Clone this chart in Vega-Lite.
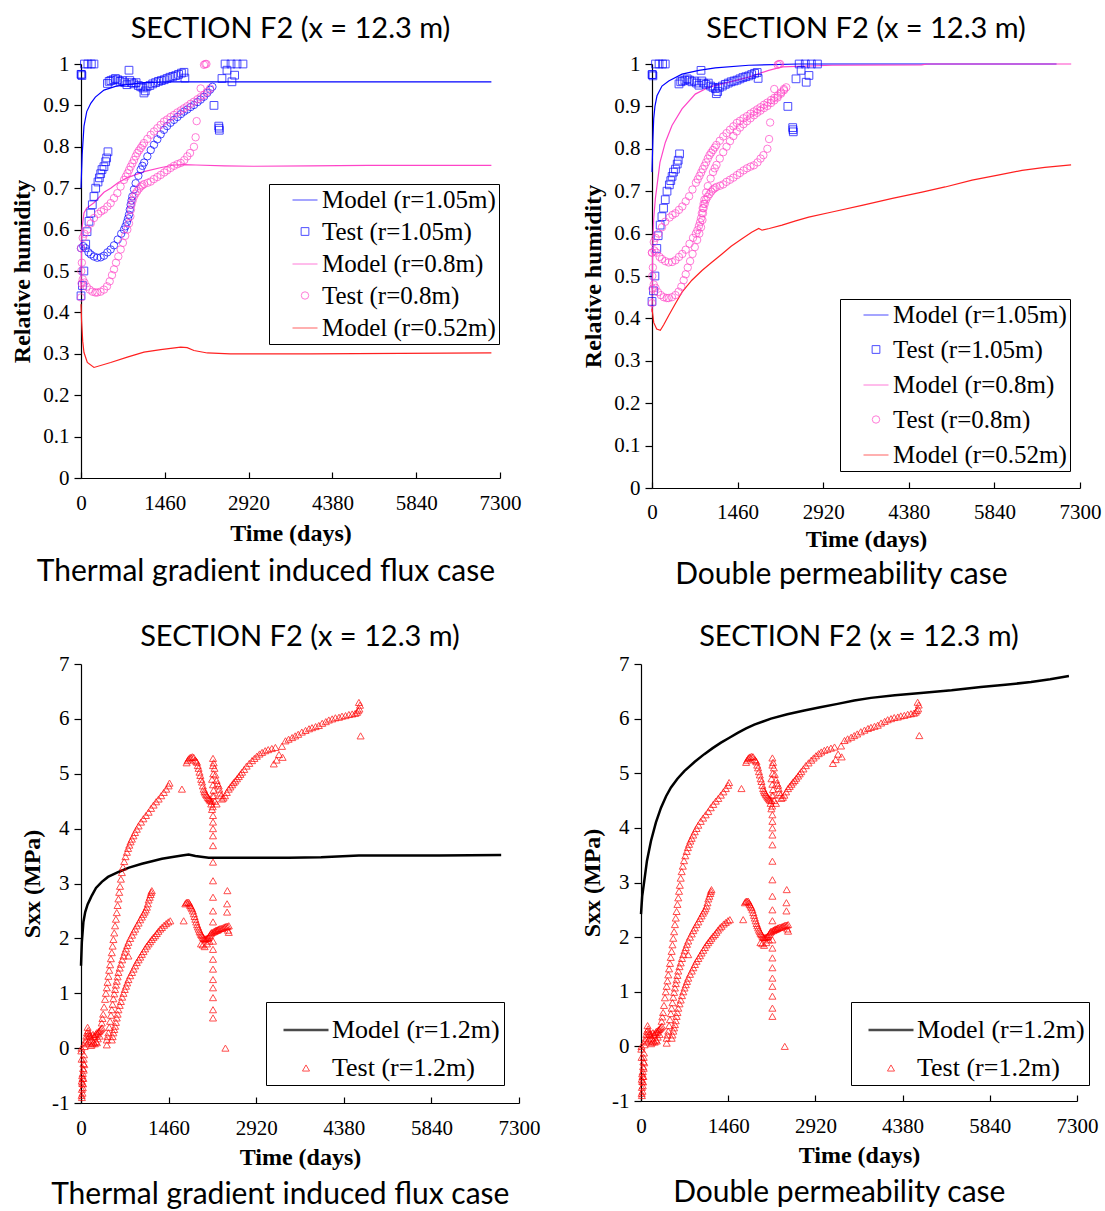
{
"$schema": "https://vega.github.io/schema/vega-lite/v6.json",
"background": "white",
"padding": {"left": 10, "top": 15, "right": 5, "bottom": 5},
"config": {
  "font": "Liberation Serif",
  "view": {"stroke": null},
  "axis": {"grid": false, "domainColor": "black", "tickColor": "black", "labelColor": "black", "titleColor": "black", "labelFont": "Liberation Serif", "labelFontSize": 21, "titleFont": "Liberation Serif", "titleFontSize": 24, "titleFontWeight": "bold", "domainWidth": 1.2, "tickWidth": 1.2, "labelFlush": false, "labelExpr": "'' + datum.value"},
  "legend": {"labelLimit": 500},
  "title": {"font": "Lato", "fontSize": 29, "fontWeight": "normal", "color": "black", "anchor": "middle"}
},
"datasets": {
  "rh_test": [
    {"t":0,"v":0.975,"s":"Test (r=1.05m)"},{"t":8,"v":0.975,"s":"Test (r=1.05m)"},{"t":16,"v":0.972,"s":"Test (r=1.05m)"},{"t":60,"v":1.0,"s":"Test (r=1.05m)"},{"t":120,"v":1.0,"s":"Test (r=1.05m)"},{"t":180,"v":1.0,"s":"Test (r=1.05m)"},{"t":226,"v":1.0,"s":"Test (r=1.05m)"},
    {"t":0,"v":0.44,"s":"Test (r=1.05m)"},{"t":25,"v":0.465,"s":"Test (r=1.05m)"},{"t":50,"v":0.5,"s":"Test (r=1.05m)"},{"t":82,"v":0.565,"s":"Test (r=1.05m)"},{"t":105,"v":0.595,"s":"Test (r=1.05m)"},{"t":139,"v":0.62,"s":"Test (r=1.05m)"},{"t":169,"v":0.64,"s":"Test (r=1.05m)"},{"t":197,"v":0.66,"s":"Test (r=1.05m)"},{"t":226,"v":0.68,"s":"Test (r=1.05m)"},{"t":256,"v":0.7,"s":"Test (r=1.05m)"},{"t":296,"v":0.715,"s":"Test (r=1.05m)"},{"t":320,"v":0.725,"s":"Test (r=1.05m)"},{"t":343,"v":0.735,"s":"Test (r=1.05m)"},{"t":366,"v":0.745,"s":"Test (r=1.05m)"},{"t":400,"v":0.752,"s":"Test (r=1.05m)"},{"t":430,"v":0.764,"s":"Test (r=1.05m)"},{"t":447,"v":0.773,"s":"Test (r=1.05m)"},{"t":470,"v":0.788,"s":"Test (r=1.05m)"},
    {"t":460,"v":0.953,"s":"Test (r=1.05m)"},{"t":490,"v":0.958,"s":"Test (r=1.05m)"},{"t":520,"v":0.96,"s":"Test (r=1.05m)"},{"t":560,"v":0.962,"s":"Test (r=1.05m)"},{"t":600,"v":0.965,"s":"Test (r=1.05m)"},{"t":640,"v":0.962,"s":"Test (r=1.05m)"},{"t":680,"v":0.958,"s":"Test (r=1.05m)"},{"t":720,"v":0.96,"s":"Test (r=1.05m)"},{"t":760,"v":0.955,"s":"Test (r=1.05m)"},{"t":800,"v":0.95,"s":"Test (r=1.05m)"},{"t":836,"v":0.985,"s":"Test (r=1.05m)"},{"t":850,"v":0.96,"s":"Test (r=1.05m)"},{"t":880,"v":0.955,"s":"Test (r=1.05m)"},{"t":920,"v":0.952,"s":"Test (r=1.05m)"},{"t":960,"v":0.955,"s":"Test (r=1.05m)"},{"t":1000,"v":0.948,"s":"Test (r=1.05m)"},{"t":1040,"v":0.945,"s":"Test (r=1.05m)"},{"t":1080,"v":0.942,"s":"Test (r=1.05m)"},{"t":1097,"v":0.93,"s":"Test (r=1.05m)"},{"t":1120,"v":0.935,"s":"Test (r=1.05m)"},{"t":1150,"v":0.945,"s":"Test (r=1.05m)"},{"t":1200,"v":0.948,"s":"Test (r=1.05m)"},{"t":1250,"v":0.952,"s":"Test (r=1.05m)"},{"t":1300,"v":0.955,"s":"Test (r=1.05m)"},{"t":1350,"v":0.958,"s":"Test (r=1.05m)"},{"t":1400,"v":0.96,"s":"Test (r=1.05m)"},{"t":1450,"v":0.962,"s":"Test (r=1.05m)"},{"t":1500,"v":0.965,"s":"Test (r=1.05m)"},{"t":1550,"v":0.968,"s":"Test (r=1.05m)"},{"t":1600,"v":0.97,"s":"Test (r=1.05m)"},{"t":1650,"v":0.972,"s":"Test (r=1.05m)"},{"t":1700,"v":0.975,"s":"Test (r=1.05m)"},{"t":1750,"v":0.978,"s":"Test (r=1.05m)"},{"t":1794,"v":0.98,"s":"Test (r=1.05m)"},{"t":1810,"v":0.966,"s":"Test (r=1.05m)"},
    {"t":2317,"v":0.9,"s":"Test (r=1.05m)"},{"t":2400,"v":0.85,"s":"Test (r=1.05m)"},{"t":2405,"v":0.845,"s":"Test (r=1.05m)"},{"t":2410,"v":0.84,"s":"Test (r=1.05m)"},{"t":2456,"v":0.965,"s":"Test (r=1.05m)"},{"t":2510,"v":1.0,"s":"Test (r=1.05m)"},{"t":2543,"v":0.985,"s":"Test (r=1.05m)"},{"t":2614,"v":1.0,"s":"Test (r=1.05m)"},{"t":2630,"v":0.957,"s":"Test (r=1.05m)"},{"t":2677,"v":0.973,"s":"Test (r=1.05m)"},{"t":2718,"v":1.0,"s":"Test (r=1.05m)"},{"t":2822,"v":1.0,"s":"Test (r=1.05m)"},
    {"t":0,"v":0.555,"s":"Test B"},{"t":40,"v":0.56,"s":"Test B"},{"t":80,"v":0.555,"s":"Test B"},{"t":130,"v":0.545,"s":"Test B"},{"t":170,"v":0.54,"s":"Test B"},{"t":226,"v":0.535,"s":"Test B"},{"t":284,"v":0.532,"s":"Test B"},{"t":343,"v":0.533,"s":"Test B"},{"t":400,"v":0.537,"s":"Test B"},{"t":460,"v":0.545,"s":"Test B"},{"t":517,"v":0.552,"s":"Test B"},{"t":575,"v":0.562,"s":"Test B"},{"t":640,"v":0.576,"s":"Test B"},{"t":700,"v":0.59,"s":"Test B"},{"t":749,"v":0.6,"s":"Test B"},{"t":775,"v":0.608,"s":"Test B"},{"t":800,"v":0.618,"s":"Test B"},{"t":820,"v":0.627,"s":"Test B"},{"t":836,"v":0.636,"s":"Test B"},{"t":850,"v":0.648,"s":"Test B"},{"t":865,"v":0.66,"s":"Test B"},{"t":880,"v":0.67,"s":"Test B"},{"t":894,"v":0.68,"s":"Test B"},{"t":923,"v":0.697,"s":"Test B"},{"t":952,"v":0.712,"s":"Test B"},{"t":1000,"v":0.73,"s":"Test B"},{"t":1040,"v":0.745,"s":"Test B"},{"t":1070,"v":0.754,"s":"Test B"},{"t":1100,"v":0.762,"s":"Test B"},{"t":1156,"v":0.777,"s":"Test B"},{"t":1215,"v":0.792,"s":"Test B"},{"t":1272,"v":0.805,"s":"Test B"},{"t":1330,"v":0.818,"s":"Test B"},{"t":1388,"v":0.83,"s":"Test B"},{"t":1446,"v":0.841,"s":"Test B"},{"t":1500,"v":0.85,"s":"Test B"},{"t":1560,"v":0.858,"s":"Test B"},{"t":1620,"v":0.865,"s":"Test B"},{"t":1680,"v":0.872,"s":"Test B"},{"t":1740,"v":0.879,"s":"Test B"},{"t":1794,"v":0.885,"s":"Test B"},{"t":1850,"v":0.89,"s":"Test B"},{"t":1910,"v":0.896,"s":"Test B"},{"t":1968,"v":0.901,"s":"Test B"},{"t":2030,"v":0.908,"s":"Test B"},{"t":2085,"v":0.914,"s":"Test B"},{"t":2143,"v":0.921,"s":"Test B"},{"t":2200,"v":0.93,"s":"Test B"},{"t":2250,"v":0.938,"s":"Test B"},{"t":2290,"v":0.945,"s":"Test B"},
    {"t":0,"v":0.555,"s":"Test (r=0.8m)"},{"t":30,"v":0.58,"s":"Test (r=0.8m)"},{"t":60,"v":0.59,"s":"Test (r=0.8m)"},{"t":110,"v":0.6,"s":"Test (r=0.8m)"},{"t":170,"v":0.615,"s":"Test (r=0.8m)"},{"t":226,"v":0.628,"s":"Test (r=0.8m)"},{"t":300,"v":0.638,"s":"Test (r=0.8m)"},{"t":350,"v":0.644,"s":"Test (r=0.8m)"},{"t":400,"v":0.648,"s":"Test (r=0.8m)"},{"t":460,"v":0.656,"s":"Test (r=0.8m)"},{"t":517,"v":0.664,"s":"Test (r=0.8m)"},{"t":575,"v":0.676,"s":"Test (r=0.8m)"},{"t":633,"v":0.688,"s":"Test (r=0.8m)"},{"t":690,"v":0.704,"s":"Test (r=0.8m)"},{"t":749,"v":0.72,"s":"Test (r=0.8m)"},{"t":780,"v":0.728,"s":"Test (r=0.8m)"},{"t":810,"v":0.736,"s":"Test (r=0.8m)"},{"t":838,"v":0.744,"s":"Test (r=0.8m)"},{"t":865,"v":0.752,"s":"Test (r=0.8m)"},{"t":895,"v":0.76,"s":"Test (r=0.8m)"},{"t":923,"v":0.768,"s":"Test (r=0.8m)"},{"t":952,"v":0.777,"s":"Test (r=0.8m)"},{"t":981,"v":0.785,"s":"Test (r=0.8m)"},{"t":1010,"v":0.791,"s":"Test (r=0.8m)"},{"t":1040,"v":0.797,"s":"Test (r=0.8m)"},{"t":1070,"v":0.803,"s":"Test (r=0.8m)"},{"t":1097,"v":0.809,"s":"Test (r=0.8m)"},{"t":1156,"v":0.819,"s":"Test (r=0.8m)"},{"t":1215,"v":0.829,"s":"Test (r=0.8m)"},{"t":1272,"v":0.837,"s":"Test (r=0.8m)"},{"t":1330,"v":0.845,"s":"Test (r=0.8m)"},{"t":1388,"v":0.853,"s":"Test (r=0.8m)"},{"t":1446,"v":0.861,"s":"Test (r=0.8m)"},{"t":1500,"v":0.866,"s":"Test (r=0.8m)"},{"t":1560,"v":0.872,"s":"Test (r=0.8m)"},{"t":1620,"v":0.877,"s":"Test (r=0.8m)"},{"t":1680,"v":0.883,"s":"Test (r=0.8m)"},{"t":1740,"v":0.888,"s":"Test (r=0.8m)"},{"t":1794,"v":0.893,"s":"Test (r=0.8m)"},{"t":1850,"v":0.898,"s":"Test (r=0.8m)"},{"t":1910,"v":0.904,"s":"Test (r=0.8m)"},{"t":1968,"v":0.909,"s":"Test (r=0.8m)"},{"t":2030,"v":0.915,"s":"Test (r=0.8m)"},{"t":2085,"v":0.92,"s":"Test (r=0.8m)"},{"t":2143,"v":0.925,"s":"Test (r=0.8m)"},{"t":2200,"v":0.933,"s":"Test (r=0.8m)"},{"t":2250,"v":0.941,"s":"Test (r=0.8m)"},
    {"t":0,"v":0.436,"s":"Test (r=0.8m)"},{"t":5,"v":0.5,"s":"Test (r=0.8m)"},{"t":15,"v":0.52,"s":"Test (r=0.8m)"},{"t":10,"v":0.47,"s":"Test (r=0.8m)"},{"t":30,"v":0.48,"s":"Test (r=0.8m)"},{"t":60,"v":0.472,"s":"Test (r=0.8m)"},{"t":100,"v":0.462,"s":"Test (r=0.8m)"},{"t":150,"v":0.455,"s":"Test (r=0.8m)"},{"t":200,"v":0.45,"s":"Test (r=0.8m)"},{"t":250,"v":0.448,"s":"Test (r=0.8m)"},{"t":284,"v":0.448,"s":"Test (r=0.8m)"},{"t":340,"v":0.45,"s":"Test (r=0.8m)"},{"t":400,"v":0.455,"s":"Test (r=0.8m)"},{"t":453,"v":0.463,"s":"Test (r=0.8m)"},{"t":500,"v":0.475,"s":"Test (r=0.8m)"},{"t":540,"v":0.49,"s":"Test (r=0.8m)"},{"t":575,"v":0.504,"s":"Test (r=0.8m)"},{"t":610,"v":0.52,"s":"Test (r=0.8m)"},{"t":650,"v":0.535,"s":"Test (r=0.8m)"},{"t":692,"v":0.552,"s":"Test (r=0.8m)"},{"t":730,"v":0.568,"s":"Test (r=0.8m)"},{"t":770,"v":0.585,"s":"Test (r=0.8m)"},{"t":807,"v":0.6,"s":"Test (r=0.8m)"},{"t":836,"v":0.615,"s":"Test (r=0.8m)"},{"t":860,"v":0.632,"s":"Test (r=0.8m)"},{"t":870,"v":0.648,"s":"Test (r=0.8m)"},{"t":880,"v":0.66,"s":"Test (r=0.8m)"},{"t":900,"v":0.67,"s":"Test (r=0.8m)"},{"t":923,"v":0.68,"s":"Test (r=0.8m)"},{"t":950,"v":0.687,"s":"Test (r=0.8m)"},{"t":980,"v":0.693,"s":"Test (r=0.8m)"},{"t":1010,"v":0.699,"s":"Test (r=0.8m)"},{"t":1040,"v":0.704,"s":"Test (r=0.8m)"},{"t":1070,"v":0.707,"s":"Test (r=0.8m)"},{"t":1100,"v":0.71,"s":"Test (r=0.8m)"},{"t":1160,"v":0.713,"s":"Test (r=0.8m)"},{"t":1214,"v":0.716,"s":"Test (r=0.8m)"},{"t":1270,"v":0.722,"s":"Test (r=0.8m)"},{"t":1330,"v":0.727,"s":"Test (r=0.8m)"},{"t":1388,"v":0.732,"s":"Test (r=0.8m)"},{"t":1450,"v":0.738,"s":"Test (r=0.8m)"},{"t":1500,"v":0.743,"s":"Test (r=0.8m)"},{"t":1562,"v":0.749,"s":"Test (r=0.8m)"},{"t":1620,"v":0.754,"s":"Test (r=0.8m)"},{"t":1680,"v":0.758,"s":"Test (r=0.8m)"},{"t":1737,"v":0.761,"s":"Test (r=0.8m)"},{"t":1800,"v":0.768,"s":"Test (r=0.8m)"},{"t":1852,"v":0.777,"s":"Test (r=0.8m)"},{"t":1900,"v":0.785,"s":"Test (r=0.8m)"},{"t":1968,"v":0.8,"s":"Test (r=0.8m)"},{"t":1997,"v":0.823,"s":"Test (r=0.8m)"},{"t":2015,"v":0.862,"s":"Test (r=0.8m)"},{"t":2085,"v":0.941,"s":"Test (r=0.8m)"},{"t":2143,"v":0.998,"s":"Test (r=0.8m)"},{"t":2165,"v":1.0,"s":"Test (r=0.8m)"},{"t":2185,"v":1.0,"s":"Test (r=0.8m)"}
  ],
  "rh_model_tg": [
    {"t":0,"v":0.70,"s":"Model (r=1.05m)"},{"t":20,"v":0.78,"s":"Model (r=1.05m)"},{"t":52,"v":0.85,"s":"Model (r=1.05m)"},{"t":100,"v":0.885,"s":"Model (r=1.05m)"},{"t":170,"v":0.905,"s":"Model (r=1.05m)"},{"t":250,"v":0.92,"s":"Model (r=1.05m)"},{"t":400,"v":0.937,"s":"Model (r=1.05m)"},{"t":600,"v":0.946,"s":"Model (r=1.05m)"},{"t":800,"v":0.95,"s":"Model (r=1.05m)"},{"t":1100,"v":0.955,"s":"Model (r=1.05m)"},{"t":1500,"v":0.957,"s":"Model (r=1.05m)"},{"t":2500,"v":0.957,"s":"Model (r=1.05m)"},{"t":4000,"v":0.957,"s":"Model (r=1.05m)"},{"t":5500,"v":0.957,"s":"Model (r=1.05m)"},{"t":7150,"v":0.957,"s":"Model (r=1.05m)"},
    {"t":0,"v":0.45,"s":"Model (r=0.8m)"},{"t":15,"v":0.6,"s":"Model (r=0.8m)"},{"t":52,"v":0.64,"s":"Model (r=0.8m)"},{"t":100,"v":0.652,"s":"Model (r=0.8m)"},{"t":226,"v":0.665,"s":"Model (r=0.8m)"},{"t":400,"v":0.69,"s":"Model (r=0.8m)"},{"t":517,"v":0.70,"s":"Model (r=0.8m)"},{"t":650,"v":0.714,"s":"Model (r=0.8m)"},{"t":800,"v":0.725,"s":"Model (r=0.8m)"},{"t":1097,"v":0.74,"s":"Model (r=0.8m)"},{"t":1400,"v":0.75,"s":"Model (r=0.8m)"},{"t":1620,"v":0.756,"s":"Model (r=0.8m)"},{"t":1800,"v":0.757,"s":"Model (r=0.8m)"},{"t":2000,"v":0.756,"s":"Model (r=0.8m)"},{"t":2500,"v":0.754,"s":"Model (r=0.8m)"},{"t":3000,"v":0.753,"s":"Model (r=0.8m)"},{"t":4000,"v":0.754,"s":"Model (r=0.8m)"},{"t":5000,"v":0.755,"s":"Model (r=0.8m)"},{"t":7150,"v":0.755,"s":"Model (r=0.8m)"},
    {"t":0,"v":0.42,"s":"Model (r=0.52m)"},{"t":10,"v":0.38,"s":"Model (r=0.52m)"},{"t":30,"v":0.33,"s":"Model (r=0.52m)"},{"t":52,"v":0.303,"s":"Model (r=0.52m)"},{"t":110,"v":0.279,"s":"Model (r=0.52m)"},{"t":226,"v":0.267,"s":"Model (r=0.52m)"},{"t":517,"v":0.279,"s":"Model (r=0.52m)"},{"t":807,"v":0.292,"s":"Model (r=0.52m)"},{"t":1097,"v":0.304,"s":"Model (r=0.52m)"},{"t":1388,"v":0.31,"s":"Model (r=0.52m)"},{"t":1737,"v":0.316,"s":"Model (r=0.52m)"},{"t":1850,"v":0.315,"s":"Model (r=0.52m)"},{"t":1968,"v":0.308,"s":"Model (r=0.52m)"},{"t":2200,"v":0.302,"s":"Model (r=0.52m)"},{"t":2600,"v":0.30,"s":"Model (r=0.52m)"},{"t":4000,"v":0.30,"s":"Model (r=0.52m)"},{"t":7150,"v":0.302,"s":"Model (r=0.52m)"}
  ],
  "rh_model_dp": [
    {"t":0,"v":0.745,"s":"Model (r=1.05m)"},{"t":15,"v":0.82,"s":"Model (r=1.05m)"},{"t":29,"v":0.871,"s":"Model (r=1.05m)"},{"t":50,"v":0.9,"s":"Model (r=1.05m)"},{"t":85,"v":0.925,"s":"Model (r=1.05m)"},{"t":170,"v":0.948,"s":"Model (r=1.05m)"},{"t":285,"v":0.96,"s":"Model (r=1.05m)"},{"t":512,"v":0.976,"s":"Model (r=1.05m)"},{"t":800,"v":0.985,"s":"Model (r=1.05m)"},{"t":1080,"v":0.991,"s":"Model (r=1.05m)"},{"t":1650,"v":0.997,"s":"Model (r=1.05m)"},{"t":2500,"v":1.0,"s":"Model (r=1.05m)"},{"t":4000,"v":1.0,"s":"Model (r=1.05m)"},{"t":6900,"v":1.0,"s":"Model (r=1.05m)"},
    {"t":0,"v":0.415,"s":"Model (r=0.8m)"},{"t":10,"v":0.55,"s":"Model (r=0.8m)"},{"t":29,"v":0.635,"s":"Model (r=0.8m)"},{"t":57,"v":0.682,"s":"Model (r=0.8m)"},{"t":136,"v":0.768,"s":"Model (r=0.8m)"},{"t":227,"v":0.815,"s":"Model (r=0.8m)"},{"t":341,"v":0.855,"s":"Model (r=0.8m)"},{"t":512,"v":0.894,"s":"Model (r=0.8m)"},{"t":738,"v":0.929,"s":"Model (r=0.8m)"},{"t":967,"v":0.945,"s":"Model (r=0.8m)"},{"t":1194,"v":0.953,"s":"Model (r=0.8m)"},{"t":1650,"v":0.969,"s":"Model (r=0.8m)"},{"t":1990,"v":0.985,"s":"Model (r=0.8m)"},{"t":2218,"v":0.993,"s":"Model (r=0.8m)"},{"t":3070,"v":0.997,"s":"Model (r=0.8m)"},{"t":4600,"v":0.998,"s":"Model (r=0.8m)"},{"t":4700,"v":1.0,"s":"Model (r=0.8m)"},{"t":7150,"v":1.0,"s":"Model (r=0.8m)"},
    {"t":0,"v":0.423,"s":"Model (r=0.52m)"},{"t":30,"v":0.39,"s":"Model (r=0.52m)"},{"t":80,"v":0.375,"s":"Model (r=0.52m)"},{"t":142,"v":0.372,"s":"Model (r=0.52m)"},{"t":200,"v":0.385,"s":"Model (r=0.52m)"},{"t":285,"v":0.407,"s":"Model (r=0.52m)"},{"t":400,"v":0.435,"s":"Model (r=0.52m)"},{"t":512,"v":0.462,"s":"Model (r=0.52m)"},{"t":680,"v":0.49,"s":"Model (r=0.52m)"},{"t":853,"v":0.513,"s":"Model (r=0.52m)"},{"t":1000,"v":0.53,"s":"Model (r=0.52m)"},{"t":1194,"v":0.552,"s":"Model (r=0.52m)"},{"t":1350,"v":0.57,"s":"Model (r=0.52m)"},{"t":1535,"v":0.588,"s":"Model (r=0.52m)"},{"t":1700,"v":0.603,"s":"Model (r=0.52m)"},{"t":1820,"v":0.612,"s":"Model (r=0.52m)"},{"t":1877,"v":0.608,"s":"Model (r=0.52m)"},{"t":2000,"v":0.612,"s":"Model (r=0.52m)"},{"t":2218,"v":0.62,"s":"Model (r=0.52m)"},{"t":2450,"v":0.63,"s":"Model (r=0.52m)"},{"t":2673,"v":0.639,"s":"Model (r=0.52m)"},{"t":3070,"v":0.651,"s":"Model (r=0.52m)"},{"t":3600,"v":0.667,"s":"Model (r=0.52m)"},{"t":4100,"v":0.683,"s":"Model (r=0.52m)"},{"t":4606,"v":0.698,"s":"Model (r=0.52m)"},{"t":5000,"v":0.71,"s":"Model (r=0.52m)"},{"t":5459,"v":0.726,"s":"Model (r=0.52m)"},{"t":5900,"v":0.738,"s":"Model (r=0.52m)"},{"t":6312,"v":0.749,"s":"Model (r=0.52m)"},{"t":6700,"v":0.756,"s":"Model (r=0.52m)"},{"t":7148,"v":0.762,"s":"Model (r=0.52m)"}
  ],
  "sxx_model_tg": [
    {"t":0,"v":1.5},{"t":14,"v":1.93},{"t":40,"v":2.3},{"t":70,"v":2.48},{"t":110,"v":2.62},{"t":154,"v":2.72},{"t":180,"v":2.78},{"t":250,"v":2.92},{"t":347,"v":3.03},{"t":450,"v":3.12},{"t":626,"v":3.21},{"t":800,"v":3.29},{"t":1015,"v":3.36},{"t":1200,"v":3.41},{"t":1349,"v":3.45},{"t":1500,"v":3.48},{"t":1682,"v":3.51},{"t":1794,"v":3.53},{"t":1906,"v":3.5},{"t":2128,"v":3.47},{"t":2500,"v":3.47},{"t":3463,"v":3.47},{"t":4000,"v":3.48},{"t":4632,"v":3.51},{"t":5967,"v":3.51},{"t":7003,"v":3.52}
  ],
  "sxx_model_dp": [
    {"t":0,"v":2.42},{"t":20,"v":2.75},{"t":55,"v":3.03},{"t":100,"v":3.4},{"t":167,"v":3.76},{"t":250,"v":4.1},{"t":335,"v":4.37},{"t":420,"v":4.58},{"t":502,"v":4.74},{"t":610,"v":4.9},{"t":725,"v":5.04},{"t":900,"v":5.21},{"t":1060,"v":5.35},{"t":1200,"v":5.46},{"t":1339,"v":5.56},{"t":1480,"v":5.65},{"t":1619,"v":5.74},{"t":1760,"v":5.82},{"t":1897,"v":5.89},{"t":2176,"v":6.0},{"t":2450,"v":6.08},{"t":2734,"v":6.15},{"t":3000,"v":6.21},{"t":3292,"v":6.27},{"t":3570,"v":6.33},{"t":3850,"v":6.38},{"t":4250,"v":6.43},{"t":4687,"v":6.47},{"t":5200,"v":6.52},{"t":5690,"v":6.58},{"t":6100,"v":6.62},{"t":6530,"v":6.67},{"t":6850,"v":6.72},{"t":7165,"v":6.78}
  ],
  "sxx_test": [
    {"t":11,"v":-0.86},{"t":15,"v":-0.75},{"t":20,"v":-0.64},{"t":25,"v":-0.55},{"t":30,"v":-0.46},{"t":35,"v":-0.37},{"t":40,"v":-0.28},{"t":45,"v":-0.2},{"t":50,"v":-0.12},{"t":5,"v":-0.05},{"t":8,"v":0.0},{"t":15,"v":-0.9},{"t":25,"v":-0.82},{"t":35,"v":-0.65},{"t":20,"v":-0.5},{"t":45,"v":-0.4},{"t":30,"v":-0.72},{"t":40,"v":-0.55},{"t":55,"v":-0.3},{"t":10,"v":-0.2},{"t":12,"v":-0.6},
    {"t":60,"v":0.03},{"t":70,"v":0.1},{"t":80,"v":0.15},{"t":90,"v":0.22},{"t":100,"v":0.28},{"t":110,"v":0.38},{"t":120,"v":0.32},{"t":130,"v":0.27},{"t":140,"v":0.22},{"t":150,"v":0.24},{"t":160,"v":0.2},{"t":180,"v":0.15},{"t":200,"v":0.25},{"t":215,"v":0.22},{"t":230,"v":0.21},{"t":245,"v":0.25},{"t":260,"v":0.28},{"t":275,"v":0.26},{"t":290,"v":0.3},{"t":305,"v":0.31},{"t":320,"v":0.33},{"t":335,"v":0.35},{"t":350,"v":0.37},{"t":100,"v":0.08},{"t":130,"v":0.12},{"t":170,"v":0.05},{"t":190,"v":0.08},{"t":210,"v":0.1},{"t":230,"v":0.08},{"t":250,"v":0.12},{"t":265,"v":0.1},{"t":280,"v":0.17},{"t":310,"v":0.22},{"t":430,"v":0.06},
    {"t":346,"v":0.46},{"t":358,"v":0.54},{"t":370,"v":0.62},{"t":385,"v":0.75},{"t":401,"v":0.89},{"t":415,"v":1.0},{"t":430,"v":1.1},{"t":443,"v":1.2},{"t":457,"v":1.31},{"t":470,"v":1.42},{"t":485,"v":1.52},{"t":498,"v":1.63},{"t":513,"v":1.74},{"t":527,"v":1.86},{"t":540,"v":1.98},{"t":554,"v":2.1},{"t":568,"v":2.23},{"t":582,"v":2.35},{"t":596,"v":2.47},{"t":610,"v":2.6},{"t":624,"v":2.72},{"t":637,"v":2.84},{"t":650,"v":2.95},{"t":665,"v":3.08},{"t":681,"v":3.2},{"t":700,"v":3.3},{"t":720,"v":3.4},{"t":742,"v":3.49},{"t":765,"v":3.57},{"t":785,"v":3.64},{"t":805,"v":3.7},{"t":826,"v":3.76},{"t":848,"v":3.81},{"t":874,"v":3.87},{"t":900,"v":3.93},{"t":930,"v":3.99},{"t":960,"v":4.05},{"t":1000,"v":4.12},{"t":1040,"v":4.18},{"t":1083,"v":4.24},{"t":1127,"v":4.3},{"t":1168,"v":4.37},{"t":1210,"v":4.43},{"t":1252,"v":4.49},{"t":1294,"v":4.54},{"t":1337,"v":4.6},{"t":1380,"v":4.66},{"t":1420,"v":4.72},{"t":1460,"v":4.78},{"t":1475,"v":4.83},
    {"t":430,"v":0.15},{"t":443,"v":0.21},{"t":457,"v":0.28},{"t":471,"v":0.38},{"t":485,"v":0.49},{"t":499,"v":0.6},{"t":513,"v":0.7},{"t":527,"v":0.8},{"t":540,"v":0.9},{"t":554,"v":0.99},{"t":568,"v":1.07},{"t":582,"v":1.15},{"t":596,"v":1.22},{"t":610,"v":1.3},{"t":624,"v":1.38},{"t":645,"v":1.46},{"t":665,"v":1.53},{"t":686,"v":1.61},{"t":708,"v":1.68},{"t":729,"v":1.75},{"t":750,"v":1.81},{"t":770,"v":1.87},{"t":791,"v":1.93},{"t":820,"v":2.0},{"t":850,"v":2.06},{"t":876,"v":2.12},{"t":903,"v":2.17},{"t":930,"v":2.23},{"t":960,"v":2.28},{"t":987,"v":2.34},{"t":1014,"v":2.39},{"t":1037,"v":2.44},{"t":1060,"v":2.48},{"t":1080,"v":2.52},{"t":1098,"v":2.57},{"t":1113,"v":2.63},{"t":1127,"v":2.7},{"t":1145,"v":2.75},{"t":1160,"v":2.8},{"t":1170,"v":2.84},{"t":1180,"v":2.87},
    {"t":513,"v":0.15},{"t":527,"v":0.21},{"t":540,"v":0.28},{"t":554,"v":0.34},{"t":568,"v":0.4},{"t":582,"v":0.47},{"t":596,"v":0.55},{"t":610,"v":0.62},{"t":624,"v":0.7},{"t":645,"v":0.78},{"t":665,"v":0.85},{"t":686,"v":0.93},{"t":708,"v":1.0},{"t":729,"v":1.07},{"t":750,"v":1.13},{"t":770,"v":1.19},{"t":791,"v":1.25},{"t":820,"v":1.32},{"t":850,"v":1.38},{"t":876,"v":1.44},{"t":903,"v":1.5},{"t":930,"v":1.56},{"t":960,"v":1.61},{"t":987,"v":1.66},{"t":1014,"v":1.71},{"t":1042,"v":1.76},{"t":1070,"v":1.81},{"t":1098,"v":1.86},{"t":1126,"v":1.9},{"t":1153,"v":1.94},{"t":1180,"v":1.98},{"t":1208,"v":2.02},{"t":1237,"v":2.05},{"t":1263,"v":2.09},{"t":1290,"v":2.13},{"t":1320,"v":2.17},{"t":1349,"v":2.2},{"t":1385,"v":2.24},{"t":1420,"v":2.27},{"t":1455,"v":2.3},{"t":1488,"v":2.32},{"t":790,"v":1.68},
    {"t":1682,"v":4.72},{"t":1760,"v":5.2},{"t":1777,"v":5.24},{"t":1794,"v":5.27},{"t":1812,"v":5.29},{"t":1830,"v":5.3},{"t":1855,"v":5.31},{"t":1878,"v":5.3},{"t":1905,"v":5.25},{"t":1918,"v":5.23},{"t":1933,"v":5.21},{"t":1946,"v":5.15},{"t":1960,"v":5.1},{"t":1975,"v":5.03},{"t":1989,"v":4.97},{"t":2003,"v":4.9},{"t":2017,"v":4.85},{"t":2031,"v":4.78},{"t":2045,"v":4.72},{"t":2058,"v":4.68},{"t":2070,"v":4.65},{"t":2085,"v":4.62},{"t":2100,"v":4.6},{"t":2115,"v":4.57},{"t":2130,"v":4.55},{"t":2143,"v":4.53},{"t":2156,"v":4.51},{"t":2170,"v":4.45},{"t":2183,"v":4.35},
    {"t":2200,"v":5.28},{"t":2211,"v":5.2},{"t":2225,"v":5.1},{"t":2240,"v":4.98},{"t":2260,"v":4.88},{"t":2275,"v":4.82},{"t":2295,"v":4.78},{"t":2305,"v":4.72},{"t":2320,"v":4.65},{"t":2335,"v":4.6},{"t":2350,"v":4.54},{"t":2375,"v":4.56},{"t":2400,"v":4.6},{"t":2430,"v":4.66},{"t":2462,"v":4.72},{"t":2490,"v":4.76},{"t":2520,"v":4.8},{"t":2545,"v":4.84},{"t":2573,"v":4.87},{"t":2600,"v":4.91},{"t":2630,"v":4.95},{"t":2657,"v":4.99},{"t":2684,"v":5.03},{"t":2720,"v":5.08},{"t":2760,"v":5.14},{"t":2805,"v":5.19},{"t":2851,"v":5.24},{"t":2890,"v":5.28},{"t":2930,"v":5.32},{"t":2975,"v":5.36},{"t":3018,"v":5.39},{"t":3070,"v":5.42},{"t":3120,"v":5.44},{"t":3180,"v":5.46},{"t":3240,"v":5.48},{"t":3213,"v":5.18},{"t":3260,"v":5.25},{"t":3300,"v":5.35},{"t":3350,"v":5.5},{"t":3360,"v":5.3},{"t":3408,"v":5.6},{"t":3460,"v":5.63},{"t":3519,"v":5.66},{"t":3570,"v":5.69},{"t":3620,"v":5.72},{"t":3680,"v":5.76},{"t":3742,"v":5.79},{"t":3800,"v":5.82},{"t":3850,"v":5.84},{"t":3910,"v":5.86},{"t":3964,"v":5.88},{"t":4020,"v":5.92},{"t":4080,"v":5.95},{"t":4130,"v":5.98},{"t":4186,"v":6.0},{"t":4240,"v":6.02},{"t":4300,"v":6.03},{"t":4350,"v":6.05},{"t":4409,"v":6.06},{"t":4465,"v":6.08},{"t":4520,"v":6.09},{"t":4570,"v":6.1},{"t":4600,"v":6.12},{"t":4620,"v":6.15},{"t":4632,"v":6.3},{"t":4640,"v":6.18},{"t":4650,"v":6.25},{"t":4660,"v":5.69},
    {"t":2195,"v":4.4},{"t":2195,"v":4.6},{"t":2200,"v":4.8},{"t":2205,"v":5.0},{"t":2200,"v":5.15},{"t":2180,"v":4.5},{"t":2230,"v":4.5},{"t":2260,"v":4.45},{"t":2210,"v":4.7},{"t":2185,"v":4.9},{"t":2215,"v":4.6},
    {"t":2200,"v":4.24},{"t":2200,"v":4.12},{"t":2200,"v":4.0},{"t":2200,"v":3.87},{"t":2200,"v":3.69},{"t":2200,"v":3.39},{"t":2200,"v":3.05},{"t":2200,"v":2.75},{"t":2200,"v":2.5},{"t":2200,"v":2.3},{"t":2200,"v":1.95},{"t":2200,"v":1.8},{"t":2200,"v":1.62},{"t":2200,"v":1.44},{"t":2200,"v":1.25},{"t":2200,"v":1.1},{"t":2200,"v":0.92},{"t":2200,"v":0.7},{"t":2200,"v":0.55},
    {"t":1711,"v":2.32},{"t":1739,"v":2.63},{"t":1755,"v":2.65},{"t":1770,"v":2.66},{"t":1794,"v":2.66},{"t":1808,"v":2.63},{"t":1820,"v":2.6},{"t":1835,"v":2.57},{"t":1850,"v":2.54},{"t":1865,"v":2.5},{"t":1880,"v":2.45},{"t":1893,"v":2.4},{"t":1906,"v":2.35},{"t":1920,"v":2.3},{"t":1935,"v":2.25},{"t":1948,"v":2.21},{"t":1962,"v":2.17},{"t":1976,"v":2.13},{"t":1990,"v":2.1},{"t":2003,"v":2.07},{"t":2017,"v":2.05},{"t":2031,"v":2.02},{"t":2045,"v":2.0},{"t":2059,"v":1.99},{"t":2073,"v":1.99},{"t":2087,"v":1.99},{"t":2100,"v":2.0},{"t":2115,"v":2.01},{"t":2129,"v":2.02},{"t":2145,"v":2.05},{"t":2160,"v":2.08},{"t":2172,"v":2.1},{"t":2185,"v":2.11},{"t":2210,"v":2.12},{"t":2225,"v":2.13},{"t":2240,"v":2.14},{"t":2255,"v":2.15},{"t":2270,"v":2.15},{"t":2283,"v":2.16},{"t":2296,"v":2.17},{"t":2318,"v":2.18},{"t":2340,"v":2.18},{"t":2360,"v":2.19},{"t":2380,"v":2.2},{"t":2400,"v":2.21},{"t":2420,"v":2.22},{"t":2442,"v":2.22},{"t":2463,"v":2.23},{"t":2463,"v":2.11},{"t":2450,"v":2.15},{"t":2435,"v":2.63},{"t":2435,"v":2.48},{"t":2440,"v":2.87},{"t":2407,"v":0.0},{"t":2000,"v":1.9},{"t":2030,"v":1.88},{"t":2060,"v":1.85},{"t":2100,"v":1.9},{"t":2140,"v":1.95}
  ]
},
"resolve": {"scale": {"color": "independent", "shape": "independent", "size": "independent", "strokeWidth": "independent"}},
"spacing": 33,
"vconcat": [
  {
    "spacing": 60,
    "resolve": {"scale": {"color": "independent", "shape": "independent", "size": "independent"}},
    "hconcat": [
      {
        "title": {"text": "Thermal gradient induced flux case", "orient": "bottom", "offset": 12, "fontSize": 30},
        "resolve": {"scale": {"color": "independent", "shape": "independent", "size": "independent"}},
        "vconcat": [
          {
            "width": 419, "height": 414,
            "title": {"text": "SECTION F2 (x = 12.3 m)", "offset": 9, "frame": "group"},
            "layer": [
              {
                "data": {"name": "rh_model_tg"},
                "mark": {"type": "line", "strokeWidth": 1.2},
                "encoding": {
                  "x": {"field": "t", "type": "quantitative", "scale": {"domain": [0, 7300], "nice": false}, "axis": {"values": [0, 1460, 2920, 4380, 5840, 7300], "title": "Time (days)", "tickSize": -6, "labelPadding": 20, "titlePadding": 8, "labelFont": "Liberation Serif"}},
                  "y": {"field": "v", "type": "quantitative", "scale": {"domain": [0, 1], "nice": false}, "axis": {"values": [0, 0.1, 0.2, 0.3, 0.4, 0.5, 0.6, 0.7, 0.8, 0.9, 1], "title": "Relative humidity", "tickSize": 7, "labelPadding": 5, "titlePadding": 8, "labelFont": "Liberation Serif"}},
                  "color": {"field": "s", "type": "nominal", "scale": {"domain": ["Model (r=1.05m)", "Test (r=1.05m)", "Model (r=0.8m)", "Test (r=0.8m)", "Model (r=0.52m)", "Test B"], "range": ["#0000FF", "#0000FF", "#FF44C8", "#FF44C8", "#FF2020", "#0000FF"]}, "legend": {"title": null, "orient": "none", "legendX": 188, "legendY": 120, "values": ["Model (r=1.05m)", "Test (r=1.05m)", "Model (r=0.8m)", "Test (r=0.8m)", "Model (r=0.52m)"], "strokeColor": "black", "fillColor": "white", "padding": 3, "symbolOffset": 20, "labelFont": "Liberation Serif", "labelFontSize": 25, "labelColor": "black", "symbolStrokeWidth": 1, "rowPadding": 6, "labelOffset": 4, "labelLimit": 500}}
                }
              },
              {
                "data": {"name": "rh_test"},
                "mark": {"type": "point", "filled": false, "strokeWidth": 1},
                "encoding": {
                  "x": {"field": "t", "type": "quantitative"},
                  "y": {"field": "v", "type": "quantitative"},
                  "color": {"field": "s", "type": "nominal"},
                  "shape": {"field": "s", "type": "nominal", "scale": {"domain": ["Model (r=1.05m)", "Test (r=1.05m)", "Model (r=0.8m)", "Test (r=0.8m)", "Model (r=0.52m)", "Test B"], "range": ["stroke", "square", "stroke", "circle", "stroke", "circle"]}},
                  "size": {"field": "s", "type": "nominal", "scale": {"type": "ordinal", "domain": ["Model (r=1.05m)", "Test (r=1.05m)", "Model (r=0.8m)", "Test (r=0.8m)", "Model (r=0.52m)", "Test B"], "range": [625, 60, 625, 55, 625, 55]}}
                }
              }
            ]
          }
        ]
      },
      {
        "title": {"text": "Double permeability case", "orient": "bottom", "offset": 9, "fontSize": 30},
        "resolve": {"scale": {"color": "independent", "shape": "independent", "size": "independent"}},
        "vconcat": [
          {
            "width": 428, "height": 424,
            "title": {"text": "SECTION F2 (x = 12.3 m)", "offset": 9, "frame": "group"},
            "layer": [
              {
                "data": {"name": "rh_model_dp"},
                "mark": {"type": "line", "strokeWidth": 1.2},
                "encoding": {
                  "x": {"field": "t", "type": "quantitative", "scale": {"domain": [0, 7300], "nice": false}, "axis": {"values": [0, 1460, 2920, 4380, 5840, 7300], "title": "Time (days)", "tickSize": -6, "labelPadding": 19, "titlePadding": 5, "labelFont": "Liberation Serif"}},
                  "y": {"field": "v", "type": "quantitative", "scale": {"domain": [0, 1], "nice": false}, "axis": {"values": [0, 0.1, 0.2, 0.3, 0.4, 0.5, 0.6, 0.7, 0.8, 0.9, 1], "title": "Relative humidity", "tickSize": 7, "labelPadding": 5, "titlePadding": 8, "labelFont": "Liberation Serif"}},
                  "color": {"field": "s", "type": "nominal", "scale": {"domain": ["Model (r=1.05m)", "Test (r=1.05m)", "Model (r=0.8m)", "Test (r=0.8m)", "Model (r=0.52m)", "Test B"], "range": ["#0000FF", "#0000FF", "#FF44C8", "#FF44C8", "#FF2020", "#FF44C8"]}, "legend": {"title": null, "orient": "none", "legendX": 188, "legendY": 235, "values": ["Model (r=1.05m)", "Test (r=1.05m)", "Model (r=0.8m)", "Test (r=0.8m)", "Model (r=0.52m)"], "strokeColor": "black", "fillColor": "white", "padding": 3, "symbolOffset": 20, "labelFont": "Liberation Serif", "labelFontSize": 25, "labelColor": "black", "symbolStrokeWidth": 1, "rowPadding": 9, "labelOffset": 4, "labelLimit": 500}}
                }
              },
              {
                "data": {"name": "rh_test"},
                "mark": {"type": "point", "filled": false, "strokeWidth": 1},
                "encoding": {
                  "x": {"field": "t", "type": "quantitative"},
                  "y": {"field": "v", "type": "quantitative"},
                  "color": {"field": "s", "type": "nominal"},
                  "shape": {"field": "s", "type": "nominal", "scale": {"domain": ["Model (r=1.05m)", "Test (r=1.05m)", "Model (r=0.8m)", "Test (r=0.8m)", "Model (r=0.52m)", "Test B"], "range": ["stroke", "square", "stroke", "circle", "stroke", "circle"]}},
                  "size": {"field": "s", "type": "nominal", "scale": {"type": "ordinal", "domain": ["Model (r=1.05m)", "Test (r=1.05m)", "Model (r=0.8m)", "Test (r=0.8m)", "Model (r=0.52m)", "Test B"], "range": [625, 60, 625, 55, 625, 55]}}
                }
              }
            ]
          }
        ]
      }
    ]
  },
  {
    "spacing": 40,
    "resolve": {"scale": {"color": "independent", "shape": "independent", "size": "independent", "strokeWidth": "independent"}},
    "hconcat": [
      {
        "title": {"text": "Thermal gradient induced flux case", "orient": "bottom", "offset": 11, "fontSize": 30},
        "resolve": {"scale": {"color": "independent", "shape": "independent", "size": "independent", "strokeWidth": "independent"}},
        "vconcat": [
          {
            "width": 438, "height": 439,
            "title": {"text": "SECTION F2 (x = 12.3 m)", "offset": 1, "frame": "group"},
            "layer": [
              {
                "data": {"name": "sxx_model_tg"},
                "mark": {"type": "line", "strokeWidth": 2.5, "color": "black"},
                "encoding": {
                  "x": {"field": "t", "type": "quantitative", "scale": {"domain": [0, 7300], "nice": false}, "axis": {"values": [0, 1460, 2920, 4380, 5840, 7300], "title": "Time (days)", "tickSize": -6, "labelPadding": 20, "titlePadding": 7, "labelFont": "Liberation Serif"}},
                  "y": {"field": "v", "type": "quantitative", "scale": {"domain": [-1, 7], "nice": false}, "axis": {"values": [-1, 0, 1, 2, 3, 4, 5, 6, 7], "title": "Sxx (MPa)", "tickSize": 7, "labelPadding": 5, "titlePadding": 7, "labelFont": "Liberation Serif"}},
                  "color": {"datum": "Model (r=1.2m)", "type": "nominal", "scale": {"domain": ["Model (r=1.2m)", "Test (r=1.2m)"], "range": ["#000000", "#FF0000"]}, "legend": {"title": null, "orient": "none", "legendX": 185, "legendY": 338, "strokeColor": "black", "fillColor": "white", "padding": 4, "symbolOffset": 12, "labelFont": "Liberation Serif", "labelFontSize": 26, "labelColor": "black", "symbolStrokeWidth": 1, "rowPadding": 12, "labelOffset": 2, "labelLimit": 500}}
                }
              },
              {
                "data": {"name": "sxx_test"},
                "mark": {"type": "point", "filled": false},
                "encoding": {
                  "x": {"field": "t", "type": "quantitative"},
                  "y": {"field": "v", "type": "quantitative"},
                  "color": {"datum": "Test (r=1.2m)", "type": "nominal"},
                  "shape": {"datum": "Test (r=1.2m)", "type": "nominal", "scale": {"domain": ["Model (r=1.2m)", "Test (r=1.2m)"], "range": ["stroke", "triangle-up"]}},
                  "size": {"datum": "Test (r=1.2m)", "type": "nominal", "scale": {"type": "ordinal", "domain": ["Model (r=1.2m)", "Test (r=1.2m)"], "range": [2025, 50]}},
                  "strokeWidth": {"datum": "Test (r=1.2m)", "type": "nominal", "scale": {"type": "ordinal", "domain": ["Model (r=1.2m)", "Test (r=1.2m)"], "range": [2.5, 1]}}
                }
              }
            ]
          }
        ]
      },
      {
        "title": {"text": "Double permeability case", "orient": "bottom", "offset": 11, "fontSize": 30},
        "resolve": {"scale": {"color": "independent", "shape": "independent", "size": "independent", "strokeWidth": "independent"}},
        "vconcat": [
          {
            "width": 436, "height": 437,
            "title": {"text": "SECTION F2 (x = 12.3 m)", "offset": 1, "frame": "group"},
            "layer": [
              {
                "data": {"name": "sxx_model_dp"},
                "mark": {"type": "line", "strokeWidth": 2.5, "color": "black"},
                "encoding": {
                  "x": {"field": "t", "type": "quantitative", "scale": {"domain": [0, 7300], "nice": false}, "axis": {"values": [0, 1460, 2920, 4380, 5840, 7300], "title": "Time (days)", "tickSize": -6, "labelPadding": 20, "titlePadding": 7, "labelFont": "Liberation Serif"}},
                  "y": {"field": "v", "type": "quantitative", "scale": {"domain": [-1, 7], "nice": false}, "axis": {"values": [-1, 0, 1, 2, 3, 4, 5, 6, 7], "title": "Sxx (MPa)", "tickSize": 7, "labelPadding": 5, "titlePadding": 7, "labelFont": "Liberation Serif"}},
                  "color": {"datum": "Model (r=1.2m)", "type": "nominal", "scale": {"domain": ["Model (r=1.2m)", "Test (r=1.2m)"], "range": ["#000000", "#FF0000"]}, "legend": {"title": null, "orient": "none", "legendX": 210, "legendY": 338, "strokeColor": "black", "fillColor": "white", "padding": 4, "symbolOffset": 12, "labelFont": "Liberation Serif", "labelFontSize": 26, "labelColor": "black", "symbolStrokeWidth": 1, "rowPadding": 12, "labelOffset": 2, "labelLimit": 500}}
                }
              },
              {
                "data": {"name": "sxx_test"},
                "mark": {"type": "point", "filled": false},
                "encoding": {
                  "x": {"field": "t", "type": "quantitative"},
                  "y": {"field": "v", "type": "quantitative"},
                  "color": {"datum": "Test (r=1.2m)", "type": "nominal"},
                  "shape": {"datum": "Test (r=1.2m)", "type": "nominal", "scale": {"domain": ["Model (r=1.2m)", "Test (r=1.2m)"], "range": ["stroke", "triangle-up"]}},
                  "size": {"datum": "Test (r=1.2m)", "type": "nominal", "scale": {"type": "ordinal", "domain": ["Model (r=1.2m)", "Test (r=1.2m)"], "range": [2025, 50]}},
                  "strokeWidth": {"datum": "Test (r=1.2m)", "type": "nominal", "scale": {"type": "ordinal", "domain": ["Model (r=1.2m)", "Test (r=1.2m)"], "range": [2.5, 1]}}
                }
              }
            ]
          }
        ]
      }
    ]
  }
]
}
